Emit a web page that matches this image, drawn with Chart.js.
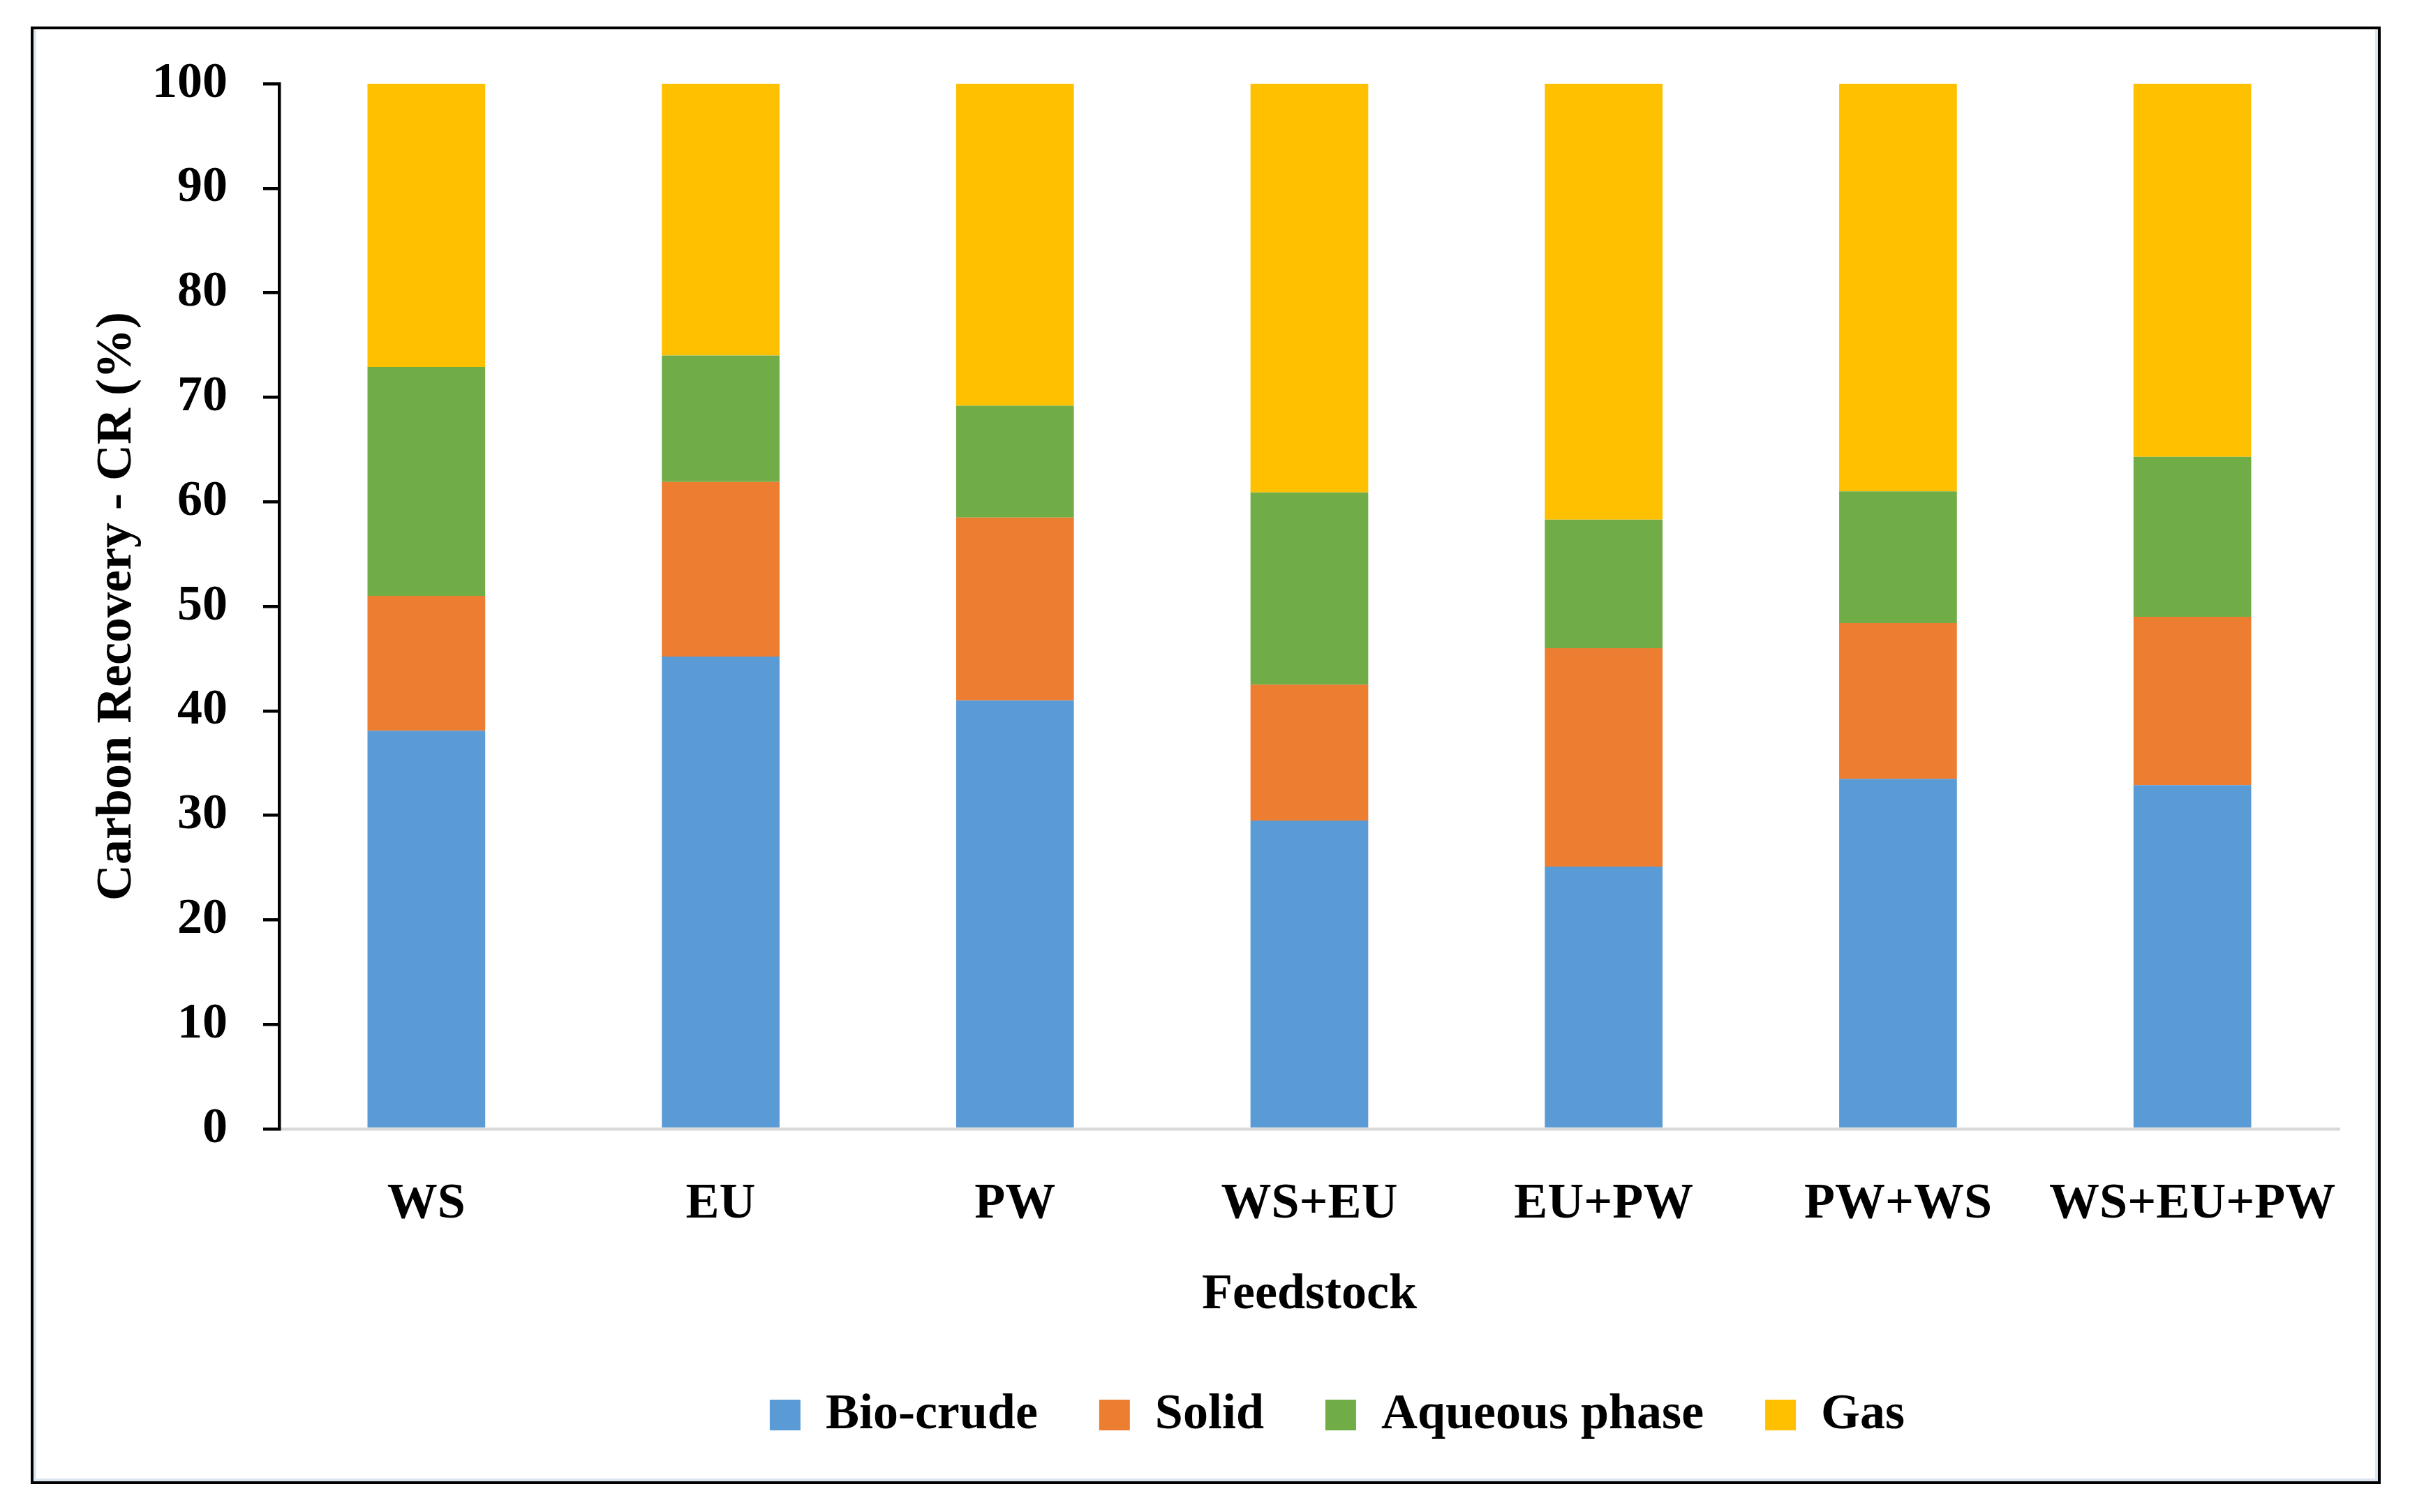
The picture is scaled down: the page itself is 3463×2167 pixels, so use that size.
<!DOCTYPE html>
<html lang="en">

<head>
    <meta charset="UTF-8">
    <title>Carbon Recovery - CR (%)</title>
    <script src="https://cdn.jsdelivr.net/npm/chart.js"></script>
</head>

<style>
    body {
        margin: 0;
        padding: 0;
        background-color: #FFF;
        overflow: hidden;
    }

    canvas {
        position: absolute;
        left: 0;
        top: 0;
    }

    .quadro {
        position: absolute;
        left: 44px;
        top: 38px;
        width: 3367px;
        height: 2089px;
        border: 4px solid #000;
        box-sizing: border-box;
        box-shadow: inset 4px 0 0 #dce6f2, inset -4px 0 0 #dce6f2, inset 0 -4px 0 #dce6f2;
        pointer-events: none;
    }
</style>

<body>
    <canvas id="graficoCR" width="3463" height="2167"></canvas>
    <div class="quadro"></div>
</body>

</html>

<script>
    // dados
    const categorias = ['WS', 'EU', 'PW', 'WS+EU', 'EU+PW', 'PW+WS', 'WS+EU+PW'];
    const bioCrude = [38.1, 45.2, 41.0, 29.5, 25.1, 33.5, 32.9];
    const solido = [12.9, 16.7, 17.5, 13.0, 20.9, 14.9, 16.1];
    const aquosa = [21.9, 12.1, 10.7, 18.4, 12.3, 12.6, 15.3];
    const gas = [27.1, 26.0, 30.8, 39.1, 41.7, 39.0, 35.7];
    const ticksY = [0, 10, 20, 30, 40, 50, 60, 70, 80, 90, 100];

    const fonte = 'Liberation Serif';
    const tamanho = 72;
    const deslocLegenda = 40;

    Chart.defaults.font.family = fonte;
    Chart.defaults.font.size = tamanho;
    Chart.defaults.font.weight = 'bold';
    Chart.defaults.color = '#000';

    // empurra a legenda um pouco para a direita, como no original
    const moverLegenda = {
        id: 'moverLegenda',
        afterLayout(chart) {
            chart.legend.left += deslocLegenda;
            chart.legend.right += deslocLegenda;
        }
    };

    let chartData = {
        labels: categorias,
        datasets: [
            { label: 'Bio-crude', data: bioCrude, backgroundColor: '#5B9BD5' },
            { label: 'Solid', data: solido, backgroundColor: '#ED7D31' },
            { label: 'Aqueous phase', data: aquosa, backgroundColor: '#70AD47' },
            { label: 'Gas', data: gas, backgroundColor: '#FFC000' }
        ]
    };

    const config = {
        type: 'bar',
        data: chartData,
        options: {
            responsive: false,
            animation: false,
            devicePixelRatio: 1,
            categoryPercentage: 1,
            barPercentage: 0.4,
            layout: {
                padding: { left: 60, right: 111, top: 120, bottom: 93 }
            },
            scales: {
                x: {
                    stacked: true,
                    grid: { display: false, drawTicks: false },
                    border: { display: true, color: '#D9D9D9', width: 4.5 },
                    ticks: { padding: 65, maxRotation: 0, autoSkip: false },
                    title: {
                        display: true,
                        text: 'Feedstock',
                        font: { size: tamanho, weight: 'bold', lineHeight: 1 },
                        padding: { top: 0, bottom: 12 }
                    },
                    afterFit(scale) { scale.height = 286; }
                },
                y: {
                    stacked: true,
                    min: 0,
                    max: 100,
                    afterBuildTicks(scale) {
                        scale.ticks = ticksY.map(v => ({ value: v }));
                    },
                    grid: {
                        drawOnChartArea: false,
                        drawTicks: true,
                        tickLength: 23,
                        color: '#000',
                        lineWidth: 4.5
                    },
                    border: { display: true, color: '#000', width: 4.5 },
                    ticks: { padding: 51 },
                    title: {
                        display: true,
                        text: 'Carbon Recovery - CR (%)',
                        font: { size: tamanho, weight: 'bold', lineHeight: 1 },
                        padding: { top: 72, bottom: 0 }
                    },
                    afterFit(scale) { scale.width = 340; }
                }
            },
            plugins: {
                legend: {
                    position: 'bottom',
                    fullSize: false,
                    labels: {
                        boxWidth: 44,
                        boxHeight: 44,
                        padding: 88,
                        font: { size: tamanho, weight: 'bold' }
                    }
                },
                tooltip: { enabled: false }
            }
        },
        plugins: [moverLegenda]
    };

    let myChart = new Chart(
        document.getElementById('graficoCR'),
        config
    );
</script>
